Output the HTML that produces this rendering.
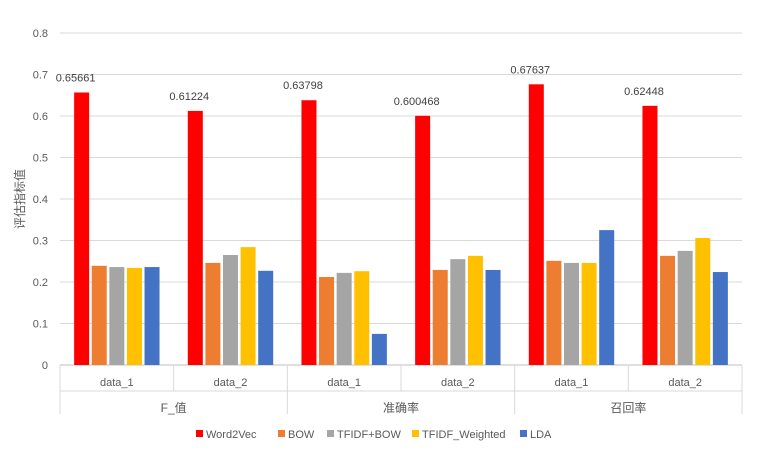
<!DOCTYPE html>
<html><head><meta charset="utf-8">
<style>
body{margin:0;background:#fff;}
svg{display:block;font-family:"Liberation Sans","Noto Sans CJK SC",sans-serif;}
</style></head><body>
<svg id="chart" width="765" height="451" viewBox="0 0 765 451" xmlns="http://www.w3.org/2000/svg"></svg>
<script>
const groups=["F_值","准确率","召回率"];
const subCats=["data_1","data_2"];
const seriesNames=["Word2Vec","BOW","TFIDF+BOW","TFIDF_Weighted","LDA"];
const colors=["#ff0000","#ed7d31","#a5a5a5","#ffc000","#4472c4"];
const w2v=[0.65661,0.61224,0.63798,0.600468,0.67637,0.62448];
const bow=[0.239,0.246,0.212,0.229,0.251,0.263];
const tfidfBow=[0.236,0.265,0.222,0.255,0.246,0.275];
const tfidfW=[0.234,0.284,0.226,0.263,0.246,0.306];
const lda=[0.236,0.227,0.075,0.229,0.325,0.224];
const w2vLabels=["0.65661","0.61224","0.63798","0.600468","0.67637","0.62448"];
const yTicks=[0,0.1,0.2,0.3,0.4,0.5,0.6,0.7,0.8];
const series=[w2v,bow,tfidfBow,tfidfW,lda];

const svg=document.getElementById('chart');
const NS="http://www.w3.org/2000/svg";
const x0=60,x1=742,yBase=365,yTop=33,yMax=0.8;
const nCat=w2v.length,catW=(x1-x0)/nCat;
const y=v=>yBase-(v/yMax)*(yBase-yTop);
function mk(t,a,parent){const e=document.createElementNS(NS,t);for(const k in a)e.setAttribute(k,a[k]);(parent||svg).appendChild(e);return e;}

yTicks.forEach((t,i)=>{
  const g=mk('line',{x1:x0,x2:x1,y1:y(t),y2:y(t),stroke:i===0?'#bfbfbf':'#d9d9d9','stroke-width':1});
  
  
  const tx=mk('text',{x:48,y:y(t)+4,'text-anchor':'end','font-size':11,fill:'#595959'});
  tx.textContent=t===0?'0':String(t);
  
  
});

const barW=15,step=17.6;
series.forEach((s,si)=>{
  s.forEach((v,ci)=>{
    const cx=x0+catW*(ci+0.5);
    const bx=cx-2*step-barW/2+si*step;
    const r=mk('rect',{x:bx,y:y(v),width:barW,height:yBase-y(v),fill:colors[si]});
    
    
    if(si===0){
      const l=mk('text',{x:bx+barW/2-6,y:y(v)-11,'text-anchor':'middle','font-size':11,fill:'#404040'});
      l.textContent=w2vLabels[ci];
      
      
    }
  });
});

// category axis
for(let i=0;i<=nCat;i++){
  const x=x0+catW*i;
  const full=(i%2===0);
  const ln=mk('line',{x1:x,x2:x,y1:yBase,y2:full?414:391,stroke:'#d9d9d9','stroke-width':1});
  
  
}
const hl=mk('line',{x1:x0,x2:x1,y1:391,y2:391,stroke:'#d9d9d9','stroke-width':1});


for(let i=0;i<nCat;i++){
  const t=mk('text',{x:x0+catW*(i+0.5),y:386,'text-anchor':'middle','font-size':11,fill:'#595959'});
  t.textContent=subCats[i%2];
  
  
}
groups.forEach((g,gi)=>{
  const t=mk('text',{x:x0+catW*(gi*2+1),y:412,'text-anchor':'middle','font-size':12,fill:'#595959'});
  t.textContent=g;
  
  
});

const yt=mk('text',{x:0,y:0,transform:'translate(24,199) rotate(-90)','text-anchor':'middle','font-size':12,fill:'#595959'});
yt.textContent='评估指标值';



// legend
const legX=[196,278,327,412,520];
seriesNames.forEach((n,i)=>{
  const g=mk('g',{});
  
  
  mk('rect',{x:legX[i],y:430,width:7,height:7,fill:colors[i]},g);
  const t=mk('text',{x:legX[i]+10,y:438,'font-size':11,fill:'#595959'},g);
  t.textContent=n;
});
</script>
</body></html>
